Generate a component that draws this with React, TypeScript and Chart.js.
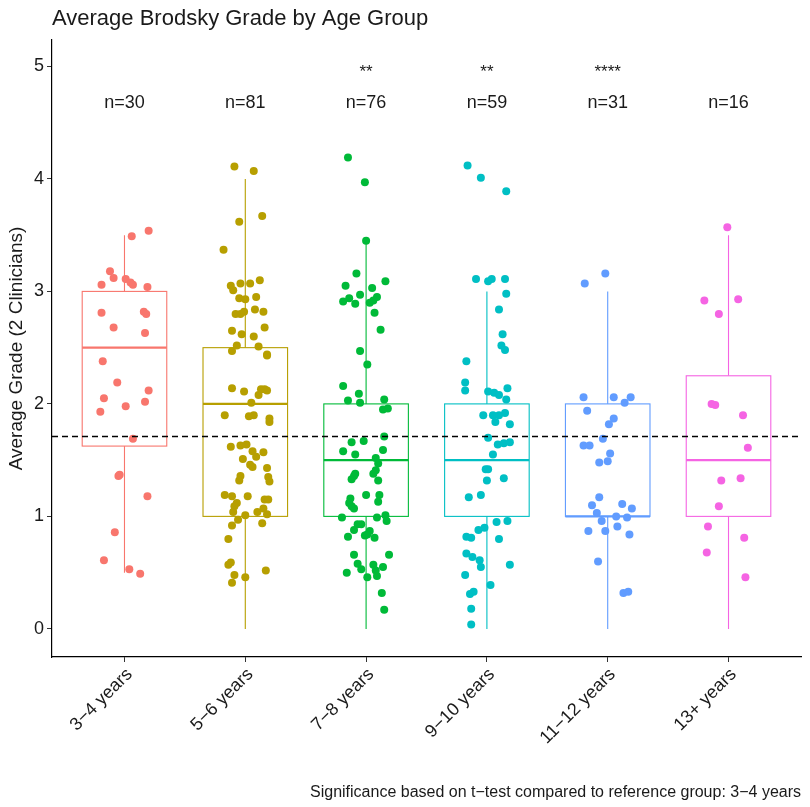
import React, { useEffect, useRef } from 'react';
import Chart from 'chart.js/auto';

// categories and summary stats
const ageGroups = ['3−4 years', '5−6 years', '7−8 years', '9−10 years', '11−12 years', '13+ years'];
const groupColors = ['#F8766D', '#B79F00', '#00BA38', '#00BFC4', '#619CFF', '#F564E3'];
const groupN = [30, 81, 76, 59, 31, 16];
const significance = ['', '', '**', '**', '****', ''];

const boxLower = [1.625, 1.0, 1.0, 1.0, 1.0, 1.0];
const boxMedian = [2.5, 2.0, 1.5, 1.5, 1.0, 1.5];
const boxUpper = [3.0, 2.5, 2.0, 2.0, 2.0, 2.25];
const whiskerLow = [0.5, 0, 0, 0, 0, 0];
const whiskerHigh = [3.5, 4.0, 3.45, 3.0, 3.0, 3.5];
const referenceGrade = 1.71;

const yTicks = [0, 1, 2, 3, 4, 5];

// individual grades and their horizontal jitter (in category units)
const grades34 = [3.54, 3.49, 3.18, 3.12, 3.11, 3.08, 3.06, 3.06, 3.04, 2.81, 2.82, 2.8, 2.68, 2.63, 2.38, 2.19, 2.12, 2.05, 1.98, 2.02, 1.93, 1.69, 1.36, 1.37, 1.18, 0.86, 0.61, 0.53, 0.49];
const jitter34 = [0.2, 0.06, -0.12, -0.09, 0.01, 0.05, 0.07, -0.19, 0.19, -0.19, 0.16, 0.18, -0.09, 0.17, -0.18, -0.06, 0.2, -0.17, 0.01, 0.17, -0.2, 0.07, -0.05, -0.04, 0.19, -0.08, -0.17, 0.04, 0.13];

const grades56 = [4.11, 4.07, 3.62, 3.67, 3.37, 3.05, 3.01, 3.07, 3.07, 3.1, 2.94, 2.93, 2.95, 2.8, 2.8, 2.82, 2.84, 2.82, 2.65, 2.62, 2.6, 2.68, 2.47, 2.52, 2.51, 2.43, 2.44, 2.14, 2.11, 2.01, 2.08, 2.13, 2.13, 2.12, 1.9, 1.89, 1.9, 1.87, 1.84, 1.62, 1.63, 1.64, 1.58, 1.57, 1.53, 1.51, 1.46, 1.44, 1.43, 1.36, 1.32, 1.35, 1.31, 1.19, 1.18, 1.18, 1.15, 1.15, 1.12, 1.09, 1.07, 1.04, 1.01, 1.04, 1.02, 0.97, 0.94, 0.92, 0.8, 0.57, 0.59, 0.52, 0.48, 0.46, 0.41];
const jitter56 = [-0.09, 0.07, -0.05, 0.14, -0.18, -0.12, -0.1, -0.04, 0.04, 0.12, -0.05, 0.0, 0.09, -0.08, -0.04, -0.01, 0.08, 0.15, -0.11, -0.03, 0.07, 0.16, -0.11, -0.07, 0.11, 0.18, 0.18, -0.11, -0.01, 0.05, 0.11, 0.13, 0.16, 0.18, -0.17, 0.03, 0.07, 0.2, 0.2, -0.12, -0.04, 0.01, 0.06, 0.15, 0.09, -0.02, 0.04, 0.06, 0.18, -0.04, -0.05, 0.19, 0.2, -0.17, -0.11, 0.02, 0.16, 0.19, -0.07, -0.09, 0.15, -0.1, 0.0, 0.1, 0.18, -0.06, 0.14, -0.11, -0.14, -0.14, -0.12, 0.17, -0.09, 0.0, -0.11];

const grades78 = [4.19, 3.97, 3.45, 3.16, 3.05, 3.03, 3.09, 2.91, 2.94, 2.89, 2.97, 2.9, 2.92, 2.95, 2.81, 2.66, 2.47, 2.35, 2.16, 2.09, 2.03, 2.01, 2.04, 1.96, 1.95, 1.66, 1.67, 1.71, 1.58, 1.55, 1.59, 1.52, 1.47, 1.38, 1.36, 1.33, 1.41, 1.38, 1.32, 1.19, 1.19, 1.13, 1.16, 1.12, 1.09, 1.07, 0.99, 0.99, 1.01, 0.96, 0.93, 0.93, 0.87, 0.88, 0.82, 0.83, 0.84, 0.81, 0.66, 0.66, 0.58, 0.53, 0.57, 0.55, 0.5, 0.46, 0.52, 0.47, 0.32, 0.17];
const jitter78 = [-0.15, -0.01, 0.0, -0.08, -0.17, 0.05, 0.16, -0.19, -0.14, -0.09, -0.05, 0.03, 0.06, 0.09, 0.07, 0.12, -0.05, 0.01, -0.19, -0.06, -0.15, -0.05, 0.15, 0.18, 0.14, -0.12, -0.02, 0.15, -0.19, -0.09, 0.14, 0.08, 0.1, -0.09, -0.1, -0.12, 0.08, 0.06, 0.1, 0.0, 0.11, 0.1, -0.13, -0.14, -0.12, -0.1, -0.2, 0.09, 0.16, 0.17, -0.07, -0.04, 0.03, -0.1, -0.15, -0.01, 0.01, 0.07, -0.1, 0.19, -0.07, -0.04, 0.06, 0.14, -0.16, 0.01, 0.08, 0.09, 0.13, 0.15];

const grades910 = [4.12, 4.01, 3.89, 3.11, 3.09, 3.11, 3.11, 2.98, 2.84, 2.62, 2.52, 2.48, 2.38, 2.19, 2.12, 2.14, 2.11, 2.1, 2.08, 2.04, 1.9, 1.9, 1.9, 1.92, 1.84, 1.82, 1.7, 1.64, 1.65, 1.66, 1.55, 1.42, 1.42, 1.32, 1.34, 1.19, 1.17, 0.95, 0.96, 0.88, 0.9, 0.82, 0.81, 0.8, 0.67, 0.64, 0.61, 0.55, 0.57, 0.48, 0.39, 0.31, 0.33, 0.18, 0.04];
const jitter910 = [-0.16, -0.05, 0.16, -0.09, 0.01, 0.04, 0.15, 0.16, 0.1, 0.13, 0.12, 0.15, -0.17, -0.18, -0.18, 0.17, 0.01, 0.06, 0.1, 0.16, -0.03, 0.05, 0.1, 0.15, 0.07, 0.19, 0.01, 0.09, 0.14, 0.19, 0.05, -0.01, 0.01, 0.0, 0.14, -0.05, -0.15, 0.08, 0.17, -0.07, -0.02, -0.17, -0.13, 0.1, -0.17, -0.12, -0.06, -0.05, 0.19, -0.18, 0.03, -0.14, -0.11, -0.13, -0.13];

const grades1112 = [3.07, 3.16, 2.06, 2.06, 2.06, 2.01, 1.94, 1.87, 1.82, 1.69, 1.63, 1.63, 1.56, 1.48, 1.49, 1.17, 1.1, 1.11, 1.07, 1.03, 1.0, 0.99, 0.96, 0.87, 0.87, 0.91, 0.84, 0.6, 0.32, 0.33];
const jitter1112 = [-0.19, -0.02, -0.2, 0.05, 0.19, 0.14, -0.17, 0.05, 0.01, -0.04, -0.2, -0.15, 0.02, -0.07, 0.0, -0.07, -0.13, 0.12, 0.2, -0.09, 0.07, 0.16, -0.05, -0.16, -0.02, 0.08, 0.18, -0.08, 0.13, 0.17];

const grades13 = [3.57, 2.92, 2.93, 2.8, 2.0, 1.99, 1.9, 1.61, 1.32, 1.34, 1.09, 0.91, 0.81, 0.68, 0.46];
const jitter13 = [-0.01, -0.2, 0.08, -0.08, -0.14, -0.11, 0.12, 0.16, -0.06, 0.1, -0.08, -0.17, 0.13, -0.18, 0.14];

const groupGrades = [grades34, grades56, grades78, grades910, grades1112, grades13];
const groupJitter = [jitter34, jitter56, jitter78, jitter910, jitter1112, jitter13];

const FONT = '"Liberation Sans", Arial, sans-serif';
const TEXT = '#1a1a1a';
const BOX_HALF = 0.35;

const boxLayer = {
  id: 'boxLayer',
  beforeDatasetsDraw(chart: any) {
    const { ctx, scales } = chart;
    const x = scales.x;
    const y = scales.y;
    ageGroups.forEach((_, i) => {
      const cx = x.getPixelForValue(i + 1);
      const left = x.getPixelForValue(i + 1 - BOX_HALF);
      const right = x.getPixelForValue(i + 1 + BOX_HALF);
      const q1 = y.getPixelForValue(boxLower[i]);
      const q3 = y.getPixelForValue(boxUpper[i]);
      const med = y.getPixelForValue(boxMedian[i]);
      ctx.save();
      ctx.strokeStyle = groupColors[i];
      ctx.lineWidth = 1.1;
      ctx.beginPath();
      ctx.moveTo(cx, y.getPixelForValue(whiskerHigh[i]));
      ctx.lineTo(cx, q3);
      ctx.moveTo(cx, q1);
      ctx.lineTo(cx, y.getPixelForValue(whiskerLow[i]));
      ctx.stroke();
      ctx.fillStyle = '#ffffff';
      ctx.fillRect(left, q3, right - left, q1 - q3);
      ctx.strokeRect(left, q3, right - left, q1 - q3);
      ctx.lineWidth = 2.2;
      ctx.beginPath();
      ctx.moveTo(left, med);
      ctx.lineTo(right, med);
      ctx.stroke();
      ctx.restore();
    });
  },
  afterDatasetsDraw(chart: any) {
    const { ctx, chartArea, scales } = chart;
    const x = scales.x;
    const y = scales.y;
    // reference line
    const ry = y.getPixelForValue(referenceGrade);
    ctx.save();
    ctx.strokeStyle = '#000';
    ctx.lineWidth = 1.3;
    ctx.setLineDash([6, 4]);
    ctx.beginPath();
    ctx.moveTo(chartArea.left, ry);
    ctx.lineTo(chartArea.right, ry);
    ctx.stroke();
    ctx.setLineDash([]);
    // counts and stars
    ctx.fillStyle = TEXT;
    ctx.textAlign = 'center';
    ctx.textBaseline = 'alphabetic';
    ageGroups.forEach((_, i) => {
      const cx = x.getPixelForValue(i + 1);
      ctx.font = `18px ${FONT}`;
      ctx.fillText(`n=${groupN[i]}`, cx, 108);
      if (significance[i]) {
        ctx.font = `17px ${FONT}`;
        ctx.fillText(significance[i], cx, 77);
      }
    });
    ctx.restore();
  },
  afterDraw(chart: any) {
    const { ctx, chartArea } = chart;
    ctx.save();
    ctx.fillStyle = TEXT;
    ctx.textBaseline = 'alphabetic';
    ctx.font = `22px ${FONT}`;
    ctx.textAlign = 'left';
    ctx.fillText('Average Brodsky Grade by Age Group', chartArea.left, 25);
    ctx.font = `16px ${FONT}`;
    ctx.textAlign = 'right';
    ctx.fillText('Significance based on t−test compared to reference group: 3−4 years', chartArea.right, 797);
    ctx.restore();
  },
};

const App: React.FC = () => {
  const canvasRef = useRef<HTMLCanvasElement>(null);

  useEffect(() => {
    document.body.style.margin = '0';
    let chart: Chart | null = null;
    const ctx = canvasRef.current?.getContext('2d');
    if (ctx) {
      chart = new Chart(ctx, {
        type: 'scatter',
        data: {
          datasets: ageGroups.map((label, i) => ({
            label,
            data: groupGrades[i].map((g, k) => ({ x: i + 1 + groupJitter[i][k], y: g })),
            backgroundColor: groupColors[i],
            borderWidth: 0,
            pointRadius: 4,
            pointHoverRadius: 4,
          })),
        },
        options: {
          responsive: false,
          animation: false,
          layout: { padding: { top: 40, right: 9, left: 0, bottom: 0 } },
          plugins: {
            legend: { display: false },
            tooltip: { enabled: false },
          },
          scales: {
            x: {
              type: 'linear',
              min: 0.4,
              max: 6.6,
              afterBuildTicks: (s: any) => {
                s.ticks = ageGroups.map((_, i) => ({ value: i + 1 }));
              },
              afterFit: (s: any) => {
                s.height = 150;
              },
              ticks: {
                autoSkip: false,
                minRotation: 45,
                maxRotation: 45,
                padding: 2,
                labelOffset: 5,
                color: TEXT,
                font: { family: FONT, size: 18 },
                callback: (_v: any, idx: number) => ageGroups[idx],
              },
              grid: { drawOnChartArea: false, drawTicks: true, tickLength: 5, color: '#333' },
              border: { color: '#000', width: 1.2 },
            },
            y: {
              type: 'linear',
              min: -0.25,
              max: 5.235,
              afterBuildTicks: (s: any) => {
                s.ticks = yTicks.map((v) => ({ value: v }));
              },
              afterFit: (s: any) => {
                s.width = 52;
              },
              ticks: {
                padding: 3,
                color: TEXT,
                font: { family: FONT, size: 18 },
              },
              title: {
                display: true,
                text: 'Average Grade (2 Clinicians)',
                color: TEXT,
                font: { family: FONT, size: 19 },
                padding: { top: 5, bottom: 0 },
              },
              grid: { drawOnChartArea: false, drawTicks: true, tickLength: 5, color: '#333' },
              border: { color: '#000', width: 1.2 },
            },
          },
        },
        plugins: [boxLayer],
      });
    }
    return () => {
      if (chart) chart.destroy();
    };
  }, []);

  return (
    <div style={{ width: 810, height: 807, background: '#fff' }}>
      <canvas ref={canvasRef} width={810} height={807}></canvas>
    </div>
  );
};

export default App;
